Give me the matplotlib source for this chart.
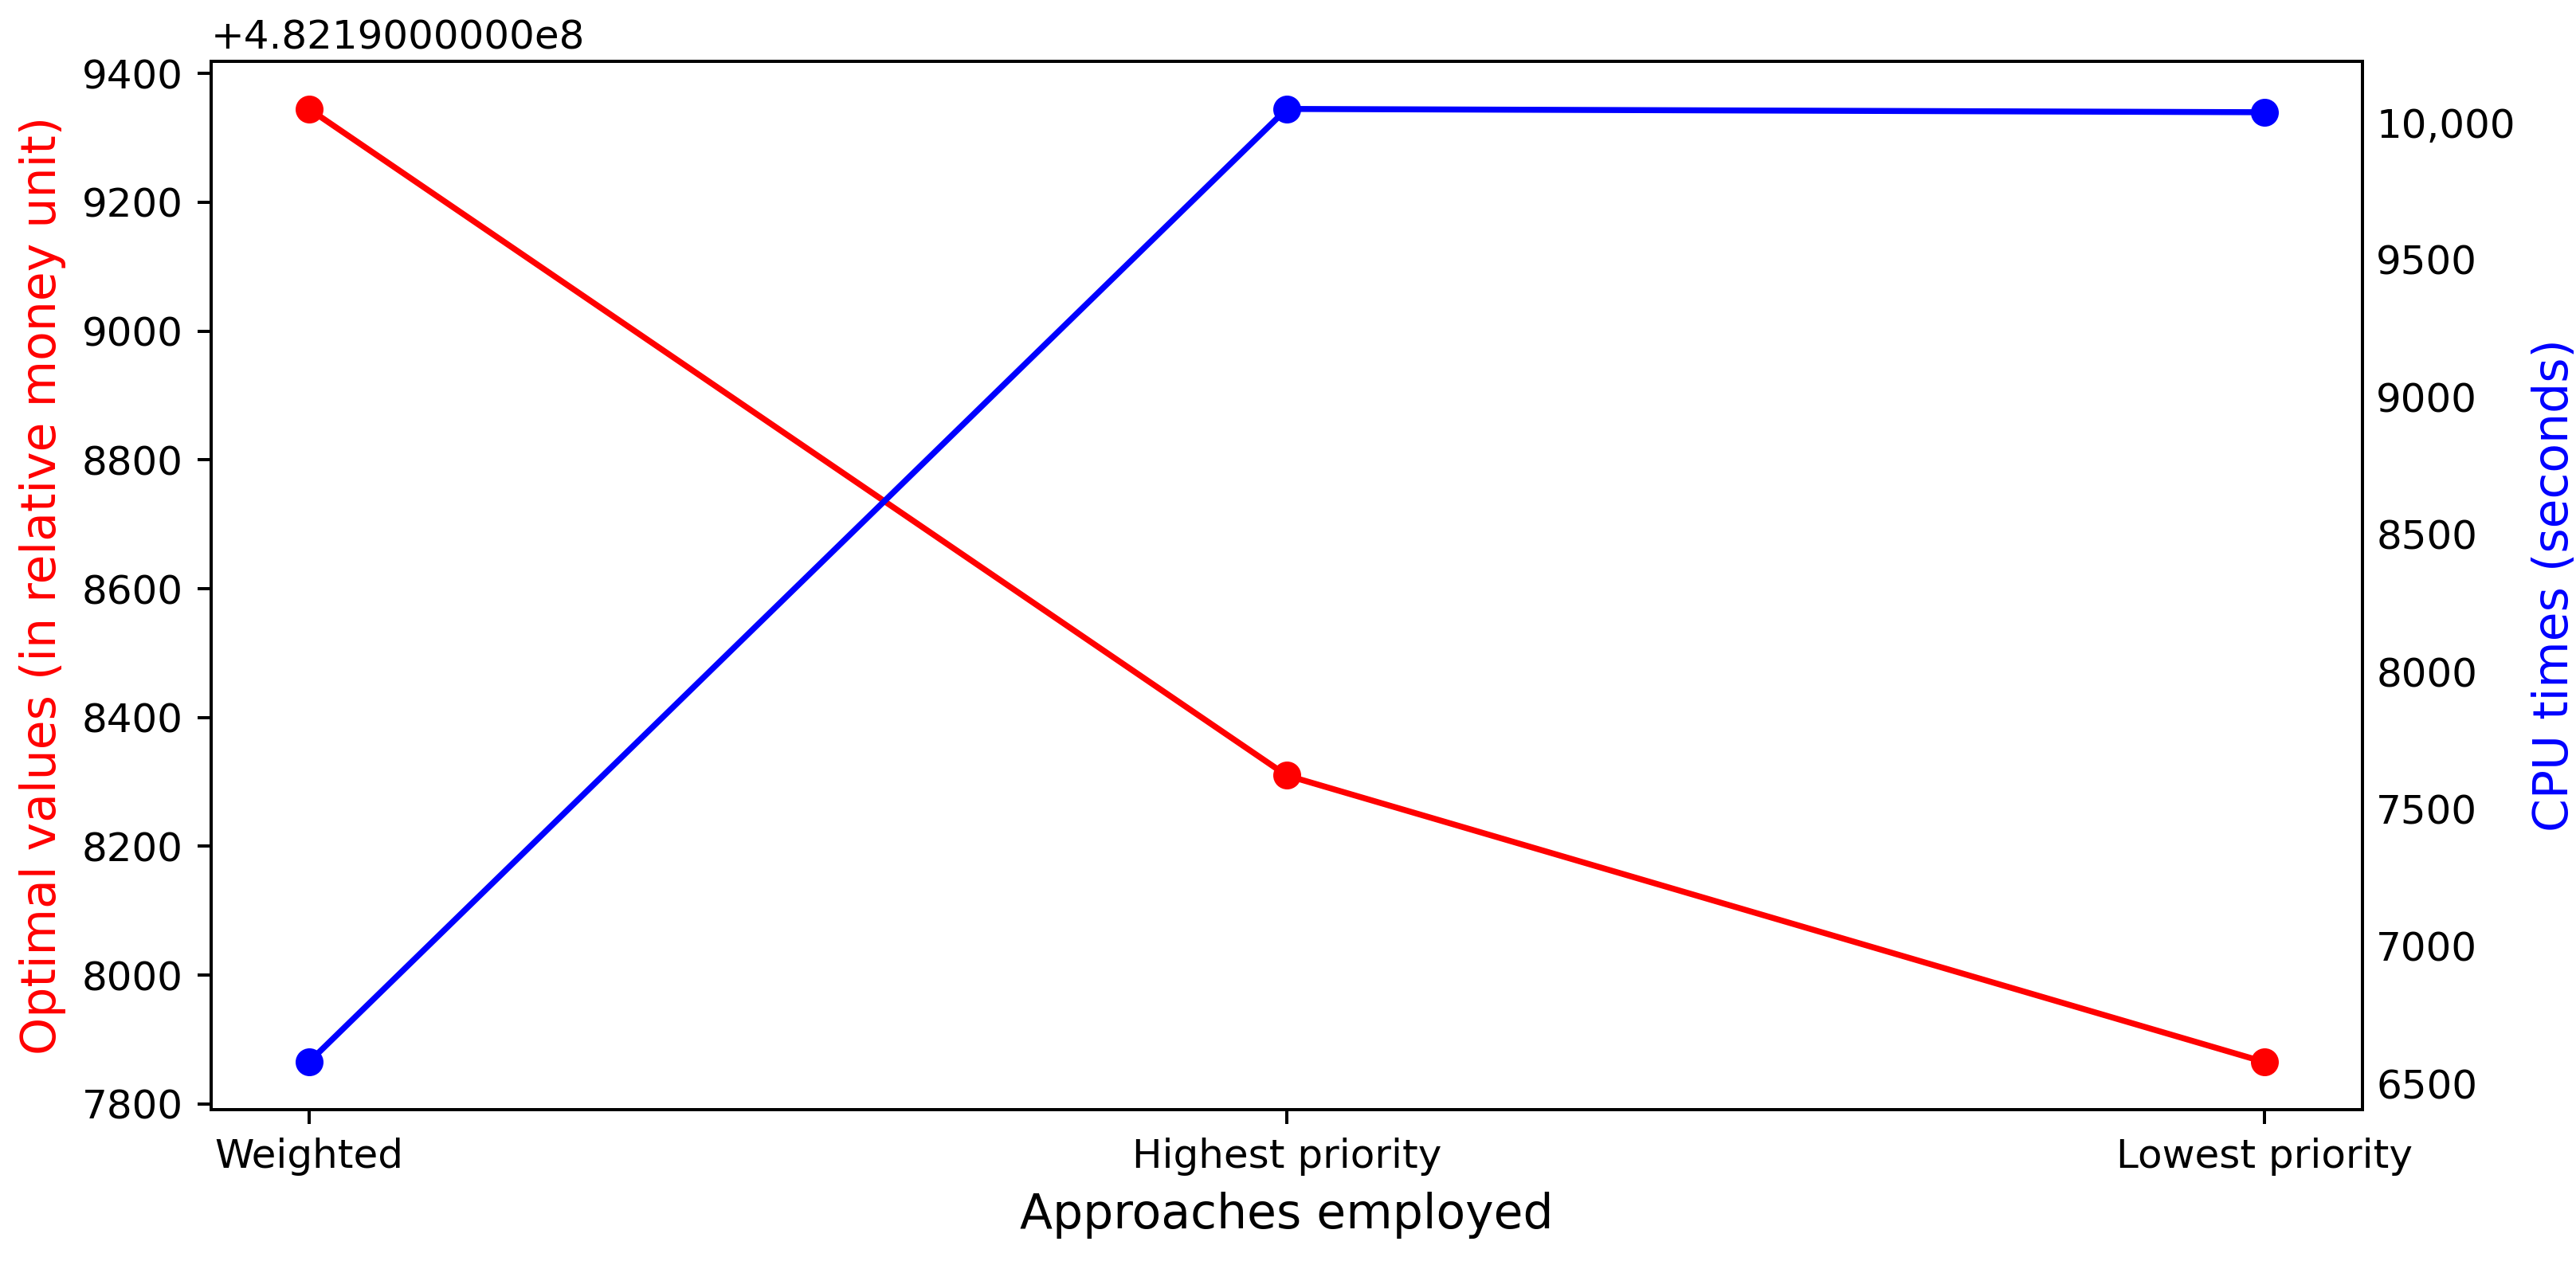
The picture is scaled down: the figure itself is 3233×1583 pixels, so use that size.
import matplotlib
matplotlib.use('Agg')
import matplotlib.pyplot as plt
import matplotlib.ticker as ticker

# approaches compared
approaches = ['Weighted', 'Highest priority', 'Lowest priority']

# objective values (relative money unit) and CPU times (seconds)
optimal_values = [482199345, 482198310, 482197865]
cpu_times = [6578, 10049, 10037]


class LongOffsetFormatter(ticker.ScalarFormatter):
    """Show the offset the way older matplotlib did (+4.8219000000e8)."""
    def get_offset(self):
        if not self.offset:
            return ''
        mant, exp = ('%1.10e' % self.offset).split('e')
        return '+{}e{}'.format(mant, int(exp))


def cpu_label(v, pos):
    if v >= 10000:
        return '{:,.0f}'.format(v)
    return '{:.0f}'.format(v)


def main():
    dpi = 360
    fig = plt.figure(figsize=(3233 / dpi, 1583 / dpi), dpi=dpi)
    ax = fig.add_axes([0.082, 0.120, 0.835, 0.8314])

    x = range(len(approaches))
    ax.plot(x, optimal_values, color='red', marker='o')
    ax.set_xticks(list(x))
    ax.set_xticklabels(approaches)
    ax.set_xlabel('Approaches employed', fontsize=12)
    ax.set_ylabel('Optimal values (in relative money unit)', color='red', fontsize=12)
    ax.yaxis.set_major_locator(ticker.MultipleLocator(200))
    ax.yaxis.set_major_formatter(LongOffsetFormatter())

    ax2 = ax.twinx()
    ax2.plot(x, cpu_times, color='blue', marker='o')
    ax2.set_ylabel('CPU times (seconds)', color='blue', fontsize=12)
    ax2.yaxis.set_major_locator(ticker.MultipleLocator(500))
    ax2.yaxis.set_major_formatter(ticker.FuncFormatter(cpu_label))
    ax2.tick_params(axis='y', length=0)

    fig.savefig('out.png', dpi=dpi)


if __name__ == "__main__":
    main()
